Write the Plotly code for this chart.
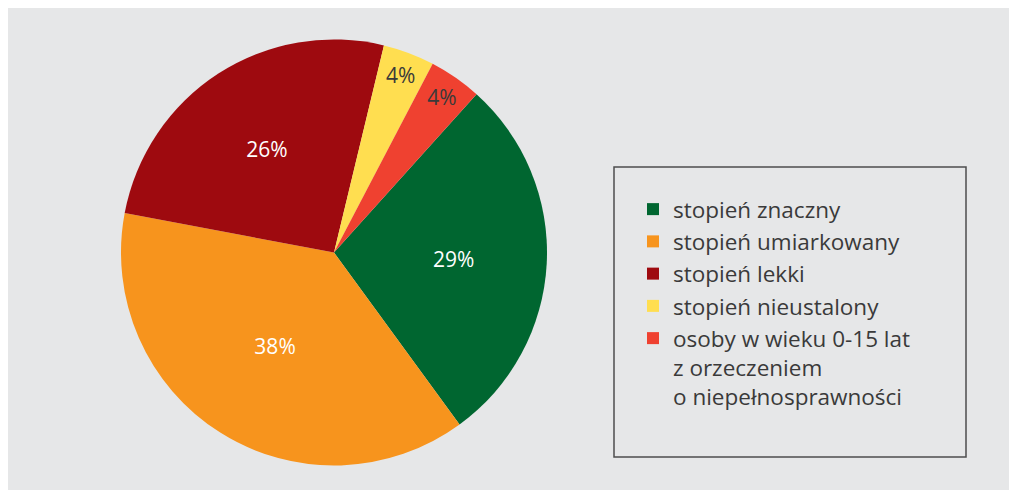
import plotly.graph_objects as go

labels = ["stopień znaczny", "stopień umiarkowany", "stopień lekki",
          "stopień nieustalony",
          "osoby w wieku 0-15 lat<br>z orzeczeniem<br>o niepełnosprawności"]
values = [28.3, 38.0, 25.8, 3.9, 4.0]
pct_text = ["29%", "38%", "26%", "4%", "4%"]
colors = ["#006630", "#f7941d", "#9e0a0f", "#ffde50", "#ef4130"]
text_colors = ["#ffffff", "#ffffff", "#ffffff", "#3a3a3a", "#3a3a3a"]

W, H = 1009, 482
cx, cy, r = 326, 244.5, 213

fig = go.Figure(go.Pie(
    labels=labels, values=values, text=pct_text,
    textinfo="text", textposition="inside", insidetextorientation="horizontal",
    sort=False, direction="clockwise", rotation=42,
    marker=dict(colors=colors, line=dict(width=0)),
    textfont=dict(family="Open Sans", size=21, color=text_colors),
    domain=dict(x=[(cx - r) / W, (cx + r) / W], y=[1 - (cy + r) / H, 1 - (cy - r) / H]),
    hoverinfo="label+percent",
))

fig.update_layout(
    width=W, height=H,
    margin=dict(l=0, r=0, t=0, b=0),
    paper_bgcolor="#e6e7e8",
    plot_bgcolor="#e6e7e8",
    font=dict(family="Open Sans", color="#3a3a3a"),
    showlegend=True,
    legend=dict(
        x=625 / W, y=1 - 180 / H, xanchor="left", yanchor="top",
        bgcolor="rgba(0,0,0,0)", borderwidth=0, valign="top",
        font=dict(family="Open Sans", size=22.5, color="#3a3a3a"),
        itemwidth=30,
    ),
    shapes=[
        dict(type="rect", xref="paper", yref="paper",
             x0=606 / W, x1=958 / W, y0=1 - 449 / H, y1=1 - 159 / H,
             fillcolor="rgba(0,0,0,0)", line=dict(color="#4d4d4d", width=1.5)),
    ],
)

fig.write_html("out.html")
